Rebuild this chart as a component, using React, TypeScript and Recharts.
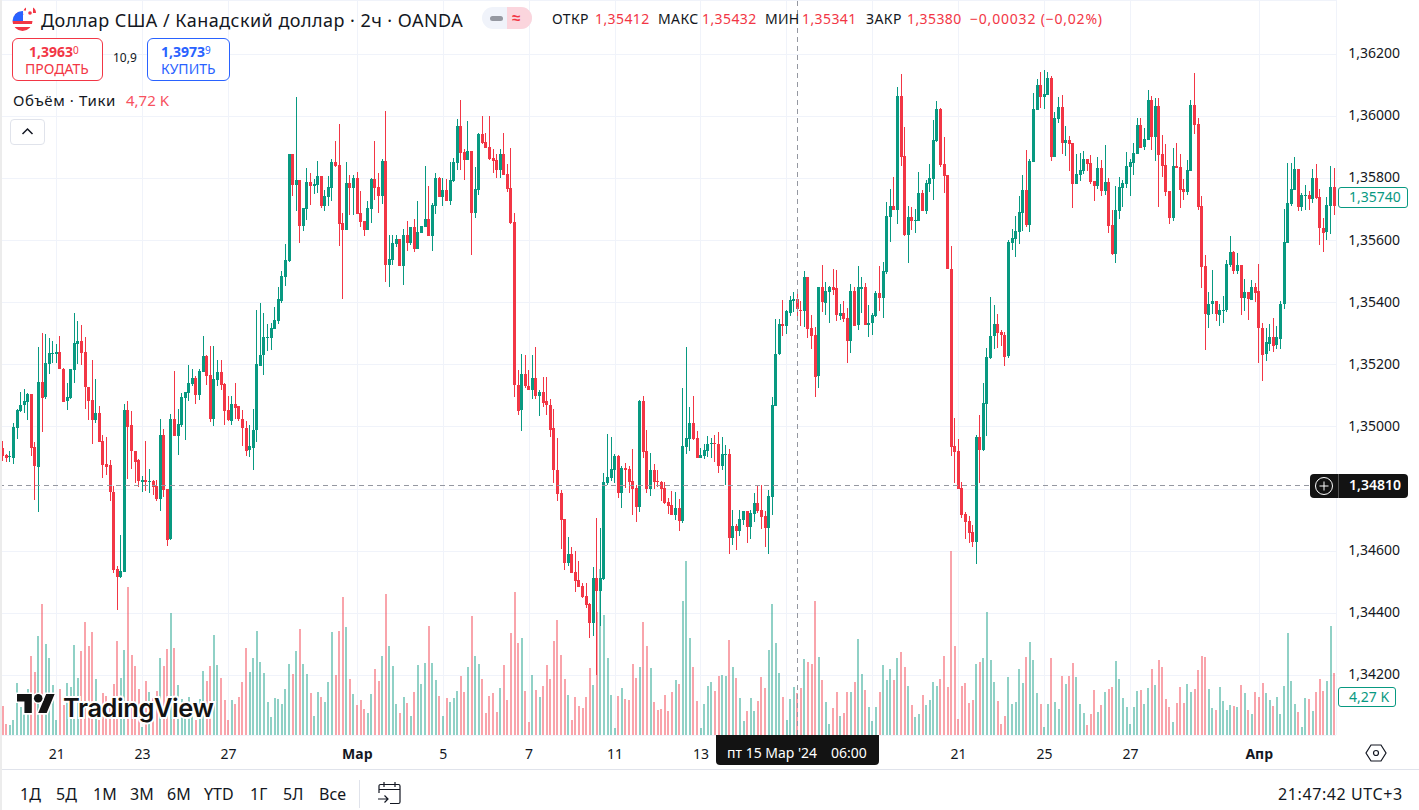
import React from "react";
import { ComposedChart, Bar, XAxis, YAxis, CartesianGrid, ReferenceLine } from "recharts";

// Prices are stored in units of 0.00001. Rows are [open, high, low, close].
type Row = [number, number, number, number];
const candlesFebA: Row[] = [
[134932,134956,134892,134906],[134908,134914,134889,134898],[134902,134921,134887,134905],[134902,135014,134883,135001],[134999,135059,134963,135056],[135053,135111,135046,135071],[135069,135121,135043,135082],[135080,135110,135022,135105],[135105,135107,134906,134931],[134934,134953,134766,134873],
[134873,135256,134724,135146],[135146,135301,134982,135096],[135096,135298,135089,135205],[135202,135285,135170,135237],[135235,135278,135208,135237],[135235,135266,135206,135240],[135240,135292,135185,135186],[135188,135191,135080,135082],[135082,135140,135053,135095],[135093,135186,135091,135185],
[135183,135366,135140,135269],[135266,135340,135201,135276],[135276,135327,135198,135237],[135240,135288,135056,135128],[135130,135130,135024,135085],[135088,135214,134943,135022],[135022,135153,135011,135046],[135046,135066,134950,134953],[134956,134975,134837,134879],[134882,134966,134843,134872],
[134876,134892,134759,134788],[134792,134811,134530,134540],[134543,134553,134410,134517],[134517,134653,134514,134537],[134534,135075,134534,135056],[135056,135082,134830,135001],[135005,135050,134863,134921],[134924,134924,134821,134888],[134892,134898,134808,134824],[134824,134843,134792,134830],
[134830,134956,134795,134824],[134825,134866,134788,134827],[134827,134830,134782,134808],[134811,134830,134763,134769],[134769,135024,134727,134975],[134975,134992,134772,134798],[134801,134801,134617,134637],[134637,135043,134637,135024],[135024,135179,134969,134969],[134969,135059,134911,135008],
[135005,135108,134998,135095],[135092,135114,134959,135111],[135108,135198,135082,135140],[135137,135185,135130,135156],[135156,135163,135072,135101],[135101,135185,135085,135179],[135176,135292,135176,135227],[135227,135230,135134,135163],[135166,135259,135014,135024],[135024,135259,135001,135153],
[135150,135214,135130,135176],[135176,135214,135117,135134],[135137,135140,135005,135050],[135053,135098,135017,135021],
];
const candlesFebB: Row[] = [
[135020,135098,135004,135075],[135075,135143,135027,135062],[135066,135066,135017,135024],[135024,135053,134937,134995],[134998,135020,134907,134924],[134924,135007,134904,134937],[134933,135059,134862,134991],[134988,135375,134949,135201],[135198,135398,135198,135233],[135230,135366,135166,135288],
[135285,135330,135243,135288],[135285,135333,135246,135317],[135314,135385,135314,135343],[135340,135450,135330,135411],[135405,135501,135397,135485],[135483,135588,135453,135537],[135533,135879,135530,135879],[135879,135879,135743,135779],[135779,136062,135695,135795],[135795,135795,135591,135646],
[135646,135704,135630,135704],[135701,135833,135666,135788],[135788,135817,135714,135775],[135775,135798,135750,135782],[135779,135856,135753,135808],[135808,135808,135704,135711],[135711,135762,135695,135743],[135741,135808,135711,135772],[135769,135862,135727,135853],[135853,135920,135837,135840],
[135843,135975,135582,135653],[135656,135688,135411,135633],[135633,135853,135633,135785],[135785,135811,135682,135769],[135769,135811,135682,135801],[135801,135820,135685,135685],[135688,135759,135643,135659],[135662,135662,135614,135633],[135633,135727,135633,135704],[135701,135801,135656,135798],
[135798,135920,135730,135769],[135772,135817,135688,135743],[135743,135862,135717,135856],[135856,136017,135466,135520],[135520,135617,135449,135540],[135537,135617,135520,135591],[135588,135617,135579,135604],[135604,135604,135517,135517],[135517,135637,135456,135617],[135617,135662,135566,135591],
[135591,135643,135585,135643],[135643,135669,135562,135572],[135572,135727,135572,135627],[135624,135646,135624,135646],[135643,135840,135643,135669],[135669,135775,135614,135614],[135614,135720,135566,135714],[135711,135817,135685,135801],[135801,135804,135740,135740],[135740,135801,135711,135762],
[135762,135798,135727,135727],[135727,135853,135714,135795],[135791,135866,135788,135853],[135850,135991,135827,135969],[135969,136053,135827,135882],[135885,135895,135795,135859],[135859,135985,135859,135888],[135888,135888,135553,135688],[135688,135837,135672,135766],[135762,135946,135746,135943],
[135943,136001,135911,135914],[135917,135946,135898,135898],[135901,136001,135859,135862],[135866,135895,135817,135856],[135859,135879,135801,135827],[135827,135895,135801,135879],[135879,135946,135811,135811],[135814,135846,135756,135766],[135769,135898,135653,135656],
];
const candlesMarA: Row[] = [
[135659,135688,135095,135133],[135136,135182,135036,135053],[135053,135236,134988,135169],[135169,135233,135127,135130],[135133,135182,135120,135120],[135120,135230,135088,135159],[135159,135256,135088,135101],[135101,135120,135036,135114],[135114,135162,135065,135078],[135082,135162,135040,135069],
[135072,135091,134969,134991],[134995,135059,134820,134859],[134862,134965,134762,134785],[134788,134798,134607,134701],[134704,134704,134540,134562],[134562,134646,134553,134591],[134591,134614,134530,134530],[134533,134601,134469,134504],[134507,134569,134485,134485],[134488,134498,134449,134453],
[134456,134498,134417,134427],[134430,134433,134320,134369],[134369,134549,134327,134514],[134514,134707,134201,134472],[134472,134675,134359,134514],[134511,134853,134507,134824],[134820,134978,134814,134840],[134836,134969,134827,134865],[134862,134914,134820,134907],[134907,134911,134772,134788],
[134788,134875,134740,134869],[134869,134885,134804,134862],[134865,134875,134788,134824],[134827,134930,134717,134801],[134804,134814,134694,134743],[134743,135088,134727,135085],[135085,135098,134898,134920],[134924,134991,134788,134801],[134801,134917,134778,134862],[134862,134882,134801,134824],
[134827,134862,134807,134824],[134824,134827,134762,134801],[134804,134824,134753,134756],[134759,134772,134720,134746],[134749,134794,134717,134717],[134717,134791,134701,134740],[134740,134769,134665,134698],[134698,135124,134688,134940],[134936,135256,134911,134965],[134962,135065,134924,135014],
[135014,135101,134959,134962],[134965,134988,134901,134901],[134901,134933,134901,134911],[134907,134946,134898,134927],[134924,134972,134904,134946],[134946,134965,134901,134949],[134949,134975,134888,134946],[134946,134985,134853,134875],[134875,134969,134862,134914],[134911,134943,134814,134914],
[134914,134930,134591,134643],[134643,134733,134620,134682],[134682,134688,134604,134665],[134665,134733,134649,134704],[134701,134730,134685,134730],[134730,134730,134627,134678],[134678,134733,134640,134724],[134720,134788,134694,134756],[134756,134811,134724,134730],[134733,134814,134672,134711],
[134714,134730,134614,134675],[134675,134798,134591,134778],[134775,135095,134714,135072],
];
const candlesMarB: Row[] = [
[135068,135346,135068,135236],[135233,135349,135233,135330],[135330,135410,135294,135323],[135323,135375,135297,135372],[135368,135423,135359,135410],[135407,135433,135368,135412],[135412,135432,135341,135380],[135378,135407,135326,135375],[135375,135501,135320,135484],[135484,135484,135288,135317],
[135320,135359,135249,135294],[135297,135323,135097,135162],[135162,135452,135126,135449],[135449,135520,135368,135401],[135401,135468,135362,135439],[135436,135455,135336,135452],[135452,135507,135423,135442],[135446,135504,135339,135359],[135359,135397,135346,135368],[135368,135407,135339,135349],
[135352,135384,135207,135278],[135278,135459,135236,135439],[135439,135452,135326,135326],[135326,135517,135310,135449],[135446,135484,135368,135452],[135452,135462,135330,135330],[135330,135391,135288,135336],[135333,135368,135297,135359],[135355,135436,135352,135430],[135430,135517,135372,135413],
[135413,135530,135349,135501],[135497,135723,135491,135678],[135675,135765,135594,135710],[135710,135804,135697,135697],[135697,136094,135652,136065],[136065,136136,135839,135868],[135872,135965,135614,135617],[135617,135710,135526,135675],[135675,135707,135633,135662],[135662,135701,135623,135665],
[135662,135820,135662,135752],[135752,135762,135694,135694],[135694,135794,135684,135784],[135781,135846,135755,135801],[135797,135988,135730,135923],[135920,136049,135917,136023],[136023,136026,135836,135843],[135846,135933,135752,135807],[135810,135810,135507,135507],[135510,135581,134904,134936],
[134939,135030,134820,134920],[134923,134962,134801,134801],[134804,134823,134707,134717],[134720,134726,134639,134694],[134697,134713,134626,134659],[134662,134684,134613,134630],[134630,134975,134559,134968],[134968,135039,134820,134926],[134926,135142,134923,135078],[135075,135255,134972,135226],
[135223,135417,135217,135294],[135291,135394,135252,135330],[135330,135365,135255,135301],[135304,135313,135262,135294],[135297,135304,135194,135226],[135226,135601,135220,135594],[135591,135636,135568,135607],[135604,135678,135546,135630],[135626,135742,135588,135691],[135688,135810,135630,135762],
[135762,135891,135642,135649],[135649,135862,135626,135855],[135852,136075,135852,136023],[136020,136120,136020,136101],[136101,136143,136026,136062],[136062,136149,136023,136072],[136068,136143,136068,136123],[136123,136130,135855,135868],[135868,136014,135868,135994],[135991,136062,135978,136030],
];
const candlesMarC: Row[] = [
[136030,136068,135878,135914],[135914,135968,135872,135923],[135923,135936,135823,135910],[135914,135914,135704,135781],[135781,135878,135781,135814],[135810,135881,135791,135826],[135823,135888,135814,135862],[135862,135862,135823,135846],[135849,135875,135781,135788],[135791,135791,135726,135775],
[135775,135868,135765,135833],[135833,135859,135742,135759],[135759,135907,135746,135788],[135788,135801,135623,135646],[135649,135697,135552,135555],[135555,135775,135526,135697],[135694,135804,135668,135772],[135768,135794,135707,135784],[135781,135884,135768,135839],[135836,135862,135742,135852],
[135849,135914,135810,135881],[135878,135994,135878,135972],[135972,135994,135897,135898],[135901,135962,135891,135926],[135923,136084,135923,136052],[136052,136065,135891,135933],[135933,136059,135855,136033],[136033,136059,135707,135875],[135878,135939,135804,135839],[135843,135910,135742,135755],
[135759,135759,135652,135672],[135672,135897,135662,135839],[135839,135914,135833,135833],[135836,135878,135704,135762],[135765,135797,135730,135755],[135755,135859,135746,135826],[135823,136052,135823,136036],[136036,136139,135943,135972],[135975,135994,135697,135707],[135710,135742,135446,135513],
[135517,135555,135249,135362],[135362,135433,135317,135397],[135394,135504,135362,135404],[135404,135404,135339,135362],[135362,135397,135326,135378],[135375,135423,135336,135378],[135375,135539,135372,135523],[135520,135614,135513,135562],[135562,135565,135491,135501],[135501,135559,135491,135520],
[135520,135520,135359,135413],[135413,135475,135372,135433],[135433,135433,135342,135410],[135410,135472,135410,135452],[135452,135462,135401,135433],[135436,135523,135204,135317],[135320,135336,135149,135233],[135233,135320,135213,135272],[135268,135330,135243,135291],[135291,135352,135243,135262],
[135262,135326,135252,135288],[135284,135407,135252,135397],[135394,135701,135378,135594],[135591,135849,135591,135720],[135717,135849,135710,135765],[135762,135868,135762,135830],[135830,135830,135694,135707],[135707,135752,135694,135746],[135742,135778,135697,135746],[135746,135759,135697,135733],
[135733,135830,135720,135801],[135801,135846,135733,135736],[135739,135765,135584,135639],[135642,135672,135562,135626],[135626,135739,135601,135713],[135710,135839,135620,135772],[135772,135833,135681,135710],
];
// Tick volume, thousands.
const volumesFeb = [
3.25,1.23,1.12,1.68,5.82,3.17,2.6,5.15,8.84,7.05,11.08,14.66,10.18,8.62,5.6,1.68,5.15,3.36,5.82,5.37,10.07,6.38,9.4,12.64,9.96,11.53,6.27,1.68,4.7,4.36,3.0,5.71,10.52,6.38,9.51,16.56,8.95,7.72,5.15,0.93,6.04,4.81,4.14,4.92,8.62,7.72,9.62,13.65,9.74,5.6,4.03,3.69,4.25,3.47,1.68,4.03,7.16,6.04,7.72,11.19,7.83,6.38,3.92,1.68,
3.92,3.47,4.25,5.93,9.74,7.05,8.62,11.64,8.17,6.94,3.69,2.01,4.14,4.03,3.47,5.15,7.94,6.83,9.4,11.86,7.94,6.83,4.7,2.13,4.81,4.25,3.69,5.93,11.53,6.71,11.64,15.44,12.09,6.27,4.59,3.36,3.92,2.91,2.46,4.59,7.39,6.04,8.84,15.78,9.96,7.72,3.47,2.46,4.25,3.58,2.13,4.81,7.83,5.71,8.06,12.2,8.06,6.15,4.36,2.13,4.14,3.69,
4.14,4.92,6.6,4.81,7.61,13.32,8.84,7.94,6.27,2.46,4.36,4.7,2.57,5.26,7.83,3.92,11.41,
];
const volumesMar = [
16.0,10.29,10.85,4.92,1.45,6.71,5.04,4.25,5.48,7.83,6.27,10.52,12.87,8.95,6.27,4.48,1.68,4.25,3.25,3.02,4.25,7.5,5.6,13.76,18.58,13.43,8.62,4.48,0.78,4.36,5.26,4.03,3.92,7.94,6.38,7.61,12.64,9.96,7.5,3.69,2.8,2.91,4.48,2.69,4.81,6.15,5.71,14.99,19.47,10.85,7.61,3.8,0.78,3.47,5.48,5.93,4.92,6.6,6.71,6.6,10.63,7.61,6.38,4.14,1.57,2.69,4.14,2.69,3.8,6.49,5.26,9.51,14.66,10.29,6.94,4.25,1.68,4.03,5.37,4.72,
5.26,8.5,8.17,7.94,14.99,8.73,6.15,3.69,1.23,3.02,4.81,2.13,2.46,4.81,4.81,5.93,10.74,6.83,5.04,3.13,1.57,3.13,4.81,7.83,6.15,7.39,6.15,8.62,9.29,7.61,5.48,3.36,2.01,2.35,4.48,3.36,3.92,5.93,5.48,6.27,8.84,5.37,20.59,9.96,1.79,5.48,5.82,3.58,3.92,7.94,8.17,8.62,13.76,8.39,5.93,3.8,1.23,2.13,6.49,3.47,3.69,7.39,5.82,8.73,10.41,8.39,4.7,3.47,0.9,3.47,8.62,3.69,2.91,
6.6,5.71,6.6,8.06,6.49,3.47,2.46,1.12,2.35,5.04,2.57,3.36,4.81,5.15,5.37,8.28,6.27,4.14,3.13,1.23,3.13,4.92,5.04,3.47,5.26,7.39,5.6,8.39,7.61,4.03,3.13,1.45,3.58,5.37,3.58,5.71,4.81,5.15,7.27,8.84,8.73,5.15,3.02,2.8,5.37,3.8,2.8,3.36,3.25,3.13,5.6,4.7,2.8,2.35,4.81,4.25,5.82,4.7,3.92,3.25,4.25,2.35,5.48,11.41,6.04,3.47,2.57,0.9,4.14,4.03,2.69,4.81,6.27,4.92,6.04,12.2,6.94,
];
const tickIndexes = [15, 39, 63, 99, 123, 147, 171, 195, 219, 243, 267, 291, 315, 351];
// The two ticks that sit behind the crosshair's date box show no label.
const tickLabels = ["21", "23", "27", "Мар", "5", "7", "11", "13", "", "", "21", "25", "27", "Апр"];
const priceTicks = [134200, 134400, 134600, 134800, 135000, 135200, 135400, 135600, 135800, 136000, 136200];
const CROSS_INDEX = 222;
const CROSS_PRICE = 134810;

const rows = [...candlesFebA, ...candlesFebB, ...candlesMarA, ...candlesMarB, ...candlesMarC];
const volumes = [...volumesFeb, ...volumesMar];
const data = rows.map((r, i) => ({ t: i, o: r[0], h: r[1], l: r[2], c: r[3], v: volumes[i] ?? 0 }));

const GREEN = "#089981";
const RED = "#F23645";
const FONT = "'Noto Sans', sans-serif";
const INK = "#131722";

const Candle = (p: any) => {
  const { x, y, width, height, payload } = p;
  const { o, h, l, c } = payload;
  const unit = height / (h - l);
  const col = Math.floor(x + width / 2);
  const fill = c >= o ? GREEN : RED;
  const top = y + (h - Math.max(o, c)) * unit;
  const bodyH = Math.max(1, Math.abs(o - c) * unit);
  return (
    <g shapeRendering="crispEdges">
      <rect x={col} y={Math.round(y)} width={1} height={Math.max(1, Math.round(height))} fill={fill} />
      <rect x={col - 1} y={Math.round(top)} width={3} height={Math.max(1, Math.round(bodyH))} fill={fill} />
    </g>
  );
};

const VolumeBar = (p: any) => {
  const { x, y, width, height, payload } = p;
  const col = Math.floor(x + width / 2);
  return <rect x={col - 1} y={y} width={2} height={height} fill={payload.c >= payload.o ? GREEN : RED} fillOpacity={0.45} shapeRendering="crispEdges" />;
};

const XTick = (p: any) => {
  const idx = tickIndexes.indexOf(p.payload.value);
  const label = tickLabels[idx];
  if (!label) return null;
  const bold = label === "Мар" || label === "Апр";
  return (
    <text x={p.x} y={753} textAnchor="middle" dominantBaseline="central" fontFamily={FONT} fontSize={14} fontWeight={bold ? 700 : 400} fill={INK}>
      {label}
    </text>
  );
};

const T = ({ x, y, c = INK, s = 14, w = 400, ls = 0, children }: any) => (
  <div style={{ position: "absolute", left: x, top: y, transform: "translateY(-50%)", color: c, fontSize: s, fontWeight: w, letterSpacing: ls, fontFamily: FONT, whiteSpace: "nowrap", lineHeight: 1 }}>{children}</div>
);
const Box = ({ x, y, w, h, style }: any) => <div style={{ position: "absolute", left: x, top: y, width: w, height: h, boxSizing: "border-box", ...style }} />;

const bottomButtons: [string, number][] = [["1Д", 20], ["5Д", 56], ["1М", 93], ["3М", 130], ["6М", 167], ["YTD", 204], ["1Г", 250], ["5Л", 283], ["Все", 319]];

export default function App() {
  return (
    <div style={{ position: "absolute", left: 0, top: 0, width: 1419, height: 810, overflow: "hidden", background: "#fff" }}>
      <style>{`.recharts-cartesian-grid line,.recharts-reference-line line{shape-rendering:crispEdges}`}</style>
      <ComposedChart width={1419} height={810} data={data} margin={{ top: 0, right: 0, bottom: 0, left: 1.2 }} barCategoryGap={0}>
        <CartesianGrid xAxisId="x" yAxisId="price" stroke="#f0f3fa" strokeWidth={1} />
        <XAxis xAxisId="x" dataKey="t" type="category" ticks={tickIndexes} interval={0} height={75} axisLine={false} tickLine={false} tick={<XTick />} />
        <XAxis xAxisId="xv" dataKey="t" type="category" hide />
        <YAxis yAxisId="price" orientation="right" type="number" domain={[134008.1, 136374.5]} allowDataOverflow ticks={priceTicks} width={82.8} axisLine={false} tickLine={false} tickSize={0} tickMargin={12}
          tick={{ fontFamily: FONT, fontSize: 14, fill: INK, dy: -1, textAnchor: "start" }} tickFormatter={(v: number) => (v === 134800 ? "" : (v / 100000).toFixed(5).replace(".", ","))} />
        <YAxis yAxisId="vol" hide type="number" domain={[0, 82.32]} allowDataOverflow />
        <Bar xAxisId="xv" yAxisId="vol" dataKey="v" barSize={2} isAnimationActive={false} shape={<VolumeBar />} />
        <ReferenceLine xAxisId="x" yAxisId="price" x={CROSS_INDEX} stroke="#9598a1" strokeDasharray="5 4" />
        <ReferenceLine xAxisId="x" yAxisId="price" y={CROSS_PRICE} stroke="#9598a1" strokeDasharray="5 4" />
        <Bar xAxisId="x" yAxisId="price" dataKey={(d: any) => [d.l, d.h]} barSize={3} isAnimationActive={false} shape={<Candle />} />
      </ComposedChart>

      {/* edges */}
      <Box x={0} y={0} w={2} h={810} style={{ background: "#ececec" }} />
      <Box x={2} y={769} w={1417} h={1} style={{ background: "#e0e3eb" }} />

      {/* watermark */}
      <svg style={{ position: "absolute", left: 0, top: 690 }} width={230} height={40}>
        <g transform="translate(17,4) scale(1.06)" stroke="#fff" strokeWidth={3} paintOrder="stroke" fill="#131313">
          <path d="M14 22H7V11H0V4h14v18ZM28 22h-8l7.5-18h8L28 22Z" transform="translate(0,-4)" />
          <circle cx="20" cy="4" r="4" />
        </g>
        <text x={63} y={27} fontFamily="'Inter', sans-serif" fontWeight={600} fontSize={25.5} fill="#131313" stroke="#fff" strokeWidth={4} paintOrder="stroke" letterSpacing={-0.45}>TradingView</text>
      </svg>

      {/* header */}
      <svg style={{ position: "absolute", left: 12, top: 6 }} width={26} height={26}>
        <defs><clipPath id="us"><circle cx={10.5} cy={15} r={10} /></clipPath></defs>
        <g clipPath="url(#us)">
          <rect x={0} y={4} width={22} height={22} fill="#fff" />
          <rect x={0} y={6} width={22} height={3} fill="#f23645" />
          <rect x={0} y={15} width={22} height={3} fill="#f23645" />
          <rect x={0} y={21} width={22} height={4} fill="#f23645" />
          <rect x={0} y={5} width={11} height={10} fill="#2962ff" />
        </g>
        <circle cx={17.5} cy={7} r={6.5} fill="#fff" />
        <path d="M11.5 4.5 A6.5 6.5 0 0 1 14 1.5 V4.5Z M21 1.5 A6.5 6.5 0 0 1 24 7 L21 7Z" fill="#f23645" />
        <circle cx={18} cy={7} r={1.8} fill="#f23645" />
      </svg>
      <T x={41} y={20} s={18} ls={0.46} c="#131722">Доллар США / Канадский доллар · 2ч · OANDA</T>
      <Box x={482} y={7} w={50} h={22} style={{ background: "#f0f3fa", borderRadius: 11 }} />
      <Box x={507} y={7} w={25} h={22} style={{ background: "#fbd5dd", borderRadius: "0 11px 11px 0" }} />
      <Box x={490} y={16} w={13} h={5} style={{ background: "#9598a1", borderRadius: 3 }} />
      <T x={512} y={17} s={15} c="#f23645" w={700}>≈</T>

      <T x={552} y={19} s={14} ls={0.4}>ОТКР</T><T x={595} y={19} s={14} ls={0.4} c={RED}>1,35412</T>
      <T x={658} y={19} s={14} ls={0.4}>МАКС</T><T x={702} y={19} s={14} ls={0.4} c={RED}>1,35432</T>
      <T x={765} y={19} s={14} ls={0.2}>МИН</T><T x={802} y={19} s={14} ls={0.4} c={RED}>1,35341</T>
      <T x={866} y={19} s={14} ls={0.4}>ЗАКР</T><T x={907} y={19} s={14} ls={0.4} c={RED}>1,35380</T>
      <T x={970} y={19} s={14} ls={0.8} c={RED}>−0,00032 (−0,02%)</T>

      <Box x={12} y={38} w={91} h={43} style={{ border: `1px solid ${RED}`, borderRadius: 6, background: "#fff" }} />
      <T x={29} y={52} s={14} w={700} c={RED}>1,3963<sup style={{ fontSize: 10, fontWeight: 400, verticalAlign: "top", lineHeight: 1 }}>0</sup></T>
      <T x={25} y={69} s={14} c={RED}>ПРОДАТЬ</T>
      <T x={113} y={58} s={12}>10,9</T>
      <Box x={147} y={38} w={83} h={43} style={{ border: "1px solid #2962ff", borderRadius: 6, background: "#fff" }} />
      <T x={161} y={52} s={14} w={700} c="#2962ff">1,3973<sup style={{ fontSize: 10, fontWeight: 400, verticalAlign: "top", lineHeight: 1 }}>9</sup></T>
      <T x={161} y={69} s={14} c="#2962ff">КУПИТЬ</T>
      <T x={13} y={100} s={15} ls={0.6}>Объём · Тики</T>
      <T x={126} y={100} s={15} c="#f7525f">4,72 K</T>
      <Box x={10} y={119} w={35} h={26} style={{ border: "1px solid #e0e3eb", borderRadius: 4, background: "#fff" }} />
      <svg style={{ position: "absolute", left: 21, top: 127 }} width={13} height={9}><path d="M1.5 7 L6.5 2 L11.5 7" fill="none" stroke={INK} strokeWidth={1.5} /></svg>

      {/* price labels */}
      <Box x={1338} y={187} w={70} h={21} style={{ border: `1px solid ${GREEN}`, borderRadius: 3, background: "#fff" }} />
      <T x={1349} y={197} s={14} c={GREEN}>1,35740</T>
      <Box x={1310} y={474} w={98} h={24} style={{ background: "#131313", borderRadius: 4 }} />
      <svg style={{ position: "absolute", left: 1314, top: 476 }} width={20} height={20}><circle cx={10} cy={10} r={8.5} fill="none" stroke="#fff" /><path d="M10 5.5V14.5M5.5 10H14.5" stroke="#fff" /></svg>
      <Box x={1338} y={474} w={1} h={24} style={{ background: "#555" }} />
      <T x={1349} y={485} s={14} c="#fff" w={600}>1,34810</T>
      <Box x={1338} y={687} w={58} h={20} style={{ border: `1px solid ${GREEN}`, borderRadius: 3, background: "#fff" }} />
      <T x={1349} y={697} s={14} c={GREEN}>4,27 K</T>

      {/* crosshair date */}
      <Box x={716} y={735} w={163} h={30} style={{ background: "#131313", borderRadius: "0 0 4px 4px" }} />
      <T x={727} y={753} s={14} c="#fff">пт 15 Мар '24</T>
      <T x={831} y={753} s={14} c="#fff">06:00</T>
      <svg style={{ position: "absolute", left: 1365, top: 743 }} width={22} height={20}><path d="M6 2H16L21 10L16 18H6L1 10Z" fill="none" stroke={INK} strokeWidth={1.2} /><circle cx={11} cy={10} r={2.5} fill="none" stroke={INK} strokeWidth={1.2} /></svg>

      {/* toolbar */}
      {bottomButtons.map(([t, x]) => <T key={t} x={x} y={794} s={16}>{t}</T>)}
      <Box x={359} y={780} w={1} h={28} style={{ background: "#e0e3eb" }} />
      <svg style={{ position: "absolute", left: 376, top: 780 }} width={26} height={26}>
        <path d="M3 13V6a1.5 1.5 0 0 1 1.5-1.5h18A1.5 1.5 0 0 1 24 6v16a1.5 1.5 0 0 1-1.5 1.5H14M3 9.5H24M8 2V7M19 2V7M2 19H12M8.5 15.5L12 19L8.5 22.5" fill="none" stroke={INK} strokeWidth={1.2} />
      </svg>
      <T x={1278} y={794} s={16} ls={0.6}>21:47:42 UTC+3</T>
    </div>
  );
}
